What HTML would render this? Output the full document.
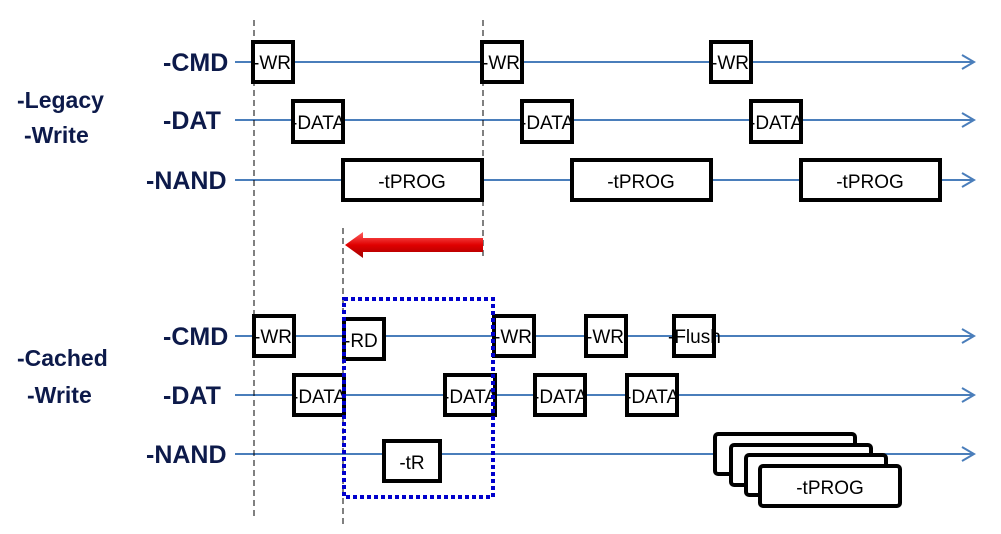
<!DOCTYPE html>
<html><head><meta charset="utf-8"><style>
html,body{margin:0;padding:0;background:#fff;}
svg{display:block;}
.lbl{font-family:"Liberation Sans",sans-serif;font-weight:bold;font-size:25px;fill:#0d1a4a;}
.lbl2{font-family:"Liberation Sans",sans-serif;font-weight:bold;font-size:23px;fill:#0d1a4a;}
.bx{fill:#fff;stroke:#000;stroke-width:4;}
.t{font-family:"Liberation Sans",sans-serif;font-size:19px;fill:#000;}
.ln{stroke:#4a7ebb;stroke-width:2;fill:none;}
.ds{stroke:#000;stroke-width:1;stroke-dasharray:6,4;}
</style></head><body>
<svg width="1001" height="534" viewBox="0 0 1001 534">
<defs><linearGradient id="rg" x1="0" y1="0" x2="0" y2="1"><stop offset="0" stop-color="#ff6060"/><stop offset="0.5" stop-color="#e00000"/><stop offset="1" stop-color="#a00000"/></linearGradient></defs>
<g class="ln">
<line x1="235" y1="62" x2="973" y2="62"/><polyline points="962,55 974,62 962,69"/>
<line x1="235" y1="120" x2="973" y2="120"/><polyline points="962,113 974,120 962,127"/>
<line x1="235" y1="180" x2="973" y2="180"/><polyline points="962,173 974,180 962,187"/>
<line x1="235" y1="336" x2="973" y2="336"/><polyline points="962,329 974,336 962,343"/>
<line x1="235" y1="395" x2="973" y2="395"/><polyline points="962,388 974,395 962,402"/>
<line x1="235" y1="454" x2="973" y2="454"/><polyline points="962,447 974,454 962,461"/>
</g>
<line class="ds" x1="254" y1="20" x2="254" y2="520"/>
<line class="ds" x1="483" y1="20" x2="483" y2="258"/>
<line class="ds" x1="343" y1="228" x2="343" y2="528"/>
<text class="lbl2" x="17" y="108">-Legacy</text>
<text class="lbl2" x="24" y="143">-Write</text>
<text class="lbl2" x="17" y="366">-Cached</text>
<text class="lbl2" x="27" y="403">-Write</text>
<text class="lbl" x="163" y="71">-CMD</text>
<text class="lbl" x="163" y="129">-DAT</text>
<text class="lbl" x="146" y="189">-NAND</text>
<text class="lbl" x="163" y="345">-CMD</text>
<text class="lbl" x="163" y="404">-DAT</text>
<text class="lbl" x="146" y="463">-NAND</text>
<g>
<rect class="bx" x="253" y="42" width="40" height="40"/><text class="t" x="253" y="69">-WR</text>
<rect class="bx" x="482" y="42" width="40" height="40"/><text class="t" x="482" y="69">-WR</text>
<rect class="bx" x="711" y="42" width="40" height="40"/><text class="t" x="711" y="69">-WR</text>
<rect class="bx" x="293" y="101" width="50" height="41"/><text class="t" x="291" y="129">-DATA</text>
<rect class="bx" x="522" y="101" width="50" height="41"/><text class="t" x="520" y="129">-DATA</text>
<rect class="bx" x="751" y="101" width="50" height="41"/><text class="t" x="749" y="129">-DATA</text>
<rect class="bx" x="343" y="160" width="139" height="40"/><text class="t" x="412" y="188" text-anchor="middle">-tPROG</text>
<rect class="bx" x="572" y="160" width="139" height="40"/><text class="t" x="641" y="188" text-anchor="middle">-tPROG</text>
<rect class="bx" x="801" y="160" width="139" height="40"/><text class="t" x="870" y="188" text-anchor="middle">-tPROG</text>
</g>
<polygon points="345,245 363,232 363,238 483,238 483,252 363,252 363,258" fill="url(#rg)"/>
<rect class="bx" x="254" y="316" width="40" height="40"/><text class="t" x="254" y="343">-WR</text>
<rect class="bx" x="344" y="319" width="40" height="40"/><text class="t" x="344" y="347">-RD</text>
<rect class="bx" x="494" y="316" width="40" height="40"/><text class="t" x="494" y="343">-WR</text>
<rect class="bx" x="586" y="316" width="40" height="40"/><text class="t" x="586" y="343">-WR</text>
<rect class="bx" x="674" y="316" width="40" height="40"/><text class="t" x="668" y="343">-Flush</text>
<rect class="bx" x="294" y="375" width="50" height="40"/><text class="t" x="292" y="403">-DATA</text>
<rect class="bx" x="445" y="375" width="50" height="40"/><text class="t" x="443" y="403">-DATA</text>
<rect class="bx" x="535" y="375" width="50" height="40"/><text class="t" x="533" y="403">-DATA</text>
<rect class="bx" x="627" y="375" width="50" height="40"/><text class="t" x="625" y="403">-DATA</text>
<rect class="bx" x="384" y="441" width="56" height="40"/><text class="t" x="412" y="469" text-anchor="middle">-tR</text>
<rect x="344" y="299" width="149" height="198" fill="none" stroke="#0000cc" stroke-width="4" stroke-dasharray="4,3"/>
<rect class="bx" x="715" y="434" width="140" height="40" rx="3"/>
<rect class="bx" x="731" y="445" width="140" height="40" rx="3"/>
<rect class="bx" x="746" y="455" width="140" height="40" rx="3"/>
<rect class="bx" x="760" y="466" width="140" height="40" rx="3"/>
<text class="t" x="830" y="494" text-anchor="middle">-tPROG</text>
</svg>
</body></html>
